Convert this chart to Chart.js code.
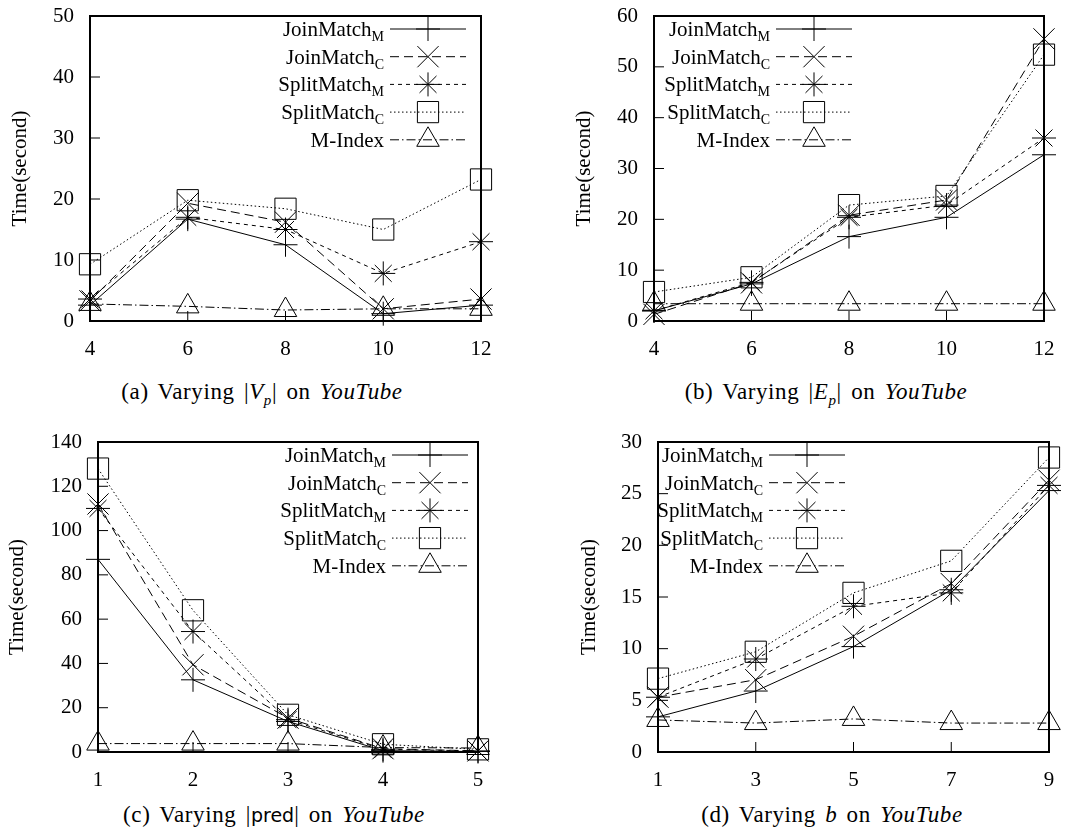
<!DOCTYPE html>
<html>
<head>
<meta charset="utf-8">
<script src="https://cdn.jsdelivr.net/npm/chart.js@4.4.1/dist/chart.umd.min.js"></script>
<style>
  body { margin: 0; background: #fff; width: 1075px; height: 838px; position: relative; overflow: hidden;
         font-family: "Liberation Serif", "Times New Roman", serif; color: #000; }
  .panel { position: absolute; }
  .cap { position: absolute; font-size: 23px; line-height: 26px; letter-spacing: 0.6px; word-spacing: 3px;
         transform: translate(-50%, -50%); white-space: nowrap; }
  .cap sub { font-size: 15px; line-height: 0; }
  .sf { font-family: "DejaVu Sans", sans-serif; font-size: 19px; letter-spacing: 0; }
</style>
</head>
<body>
<div class="cap" style="left:262px;top:392px">(a) Varying |<i>V<sub>p</sub></i>| on <i>YouTube</i></div>
<div class="cap" style="left:826px;top:392px">(b) Varying |<i>E<sub>p</sub></i>| on <i>YouTube</i></div>
<div class="cap" style="left:274px;top:815px">(c) Varying |<span class="sf">pred</span>| on <i>YouTube</i></div>
<div class="cap" style="left:832px;top:815px">(d) Varying <i>b</i> on <i>YouTube</i></div>

<script>
// series names (main text + subscript)
const seriesNames = ['JoinMatch', 'JoinMatch', 'SplitMatch', 'SplitMatch', 'M-Index'];
const seriesSubs = ['M', 'C', 'M', 'C', ''];

// (a) varying |Vp|
const xVp = [4, 6, 8, 10, 12];
const vpJoinM = [2.6, 16.7, 12.5, 1.2, 2.6];
const vpJoinC = [3.3, 19.3, 16.2, 2.0, 3.6];
const vpSplitM = [3.6, 17.0, 15.0, 7.8, 13.0];
const vpSplitC = [9.3, 19.8, 18.4, 15.0, 23.2];
const vpMIndex = [2.8, 2.4, 1.8, 2.0, 2.0];

// (b) varying |Ep|
const xEp = [4, 6, 8, 10, 12];
const epJoinM = [2.0, 7.3, 16.6, 20.4, 32.7];
const epJoinC = [1.3, 7.5, 20.8, 23.8, 55.5];
const epSplitM = [2.0, 7.6, 20.4, 22.8, 36.0];
const epSplitC = [5.7, 8.6, 22.8, 24.6, 52.4];
const epMIndex = [3.4, 3.4, 3.4, 3.4, 3.4];

// (c) varying |pred|
const xPred = [1, 2, 3, 4, 5];
const predJoinM = [87, 32.6, 13.8, 0.6, 0.2];
const predJoinC = [112, 39.4, 15.3, 1.5, 0.5];
const predSplitM = [110, 54.4, 14.6, 1.2, 0.5];
const predSplitC = [128, 64, 16.8, 3.5, 1.2];
const predMIndex = [3.8, 3.8, 3.8, 2.0, 1.8];

// (d) varying b
const xB = [1, 3, 5, 7, 9];
const bJoinM = [3.4, 5.9, 10.2, 15.7, 25.3];
const bJoinC = [5.3, 7.0, 11.2, 16.3, 26.3];
const bSplitM = [5.3, 9.0, 14.1, 15.4, 25.8];
const bSplitC = [7.1, 9.7, 15.4, 18.5, 28.5];
const bMIndex = [3.1, 2.8, 3.2, 2.8, 2.8];

const FONT = '"Liberation Serif", "Times New Roman", serif';

const lineStyles = [
  { pointStyle: 'cross', radius: 12, dash: [] },
  { pointStyle: 'crossRot', radius: 15, dash: [9, 5] },
  { pointStyle: 'star', radius: 12, dash: [4, 4] },
  { pointStyle: 'rect', radius: 15, dash: [1.5, 2.5] },
  { pointStyle: 'triangle', radius: 13, dash: [9, 3, 1.5, 3] }
];

const panels = [
  { left: 0, top: 0, w: 537, h: 360, area: { left: 90, top: 10, right: 481, bottom: 321 },
    titlePad: 8, legendX: 390, xs: xVp, xStep: 2, yMax: 50, yStep: 10,
    series: [vpJoinM, vpJoinC, vpSplitM, vpSplitC, vpMIndex] },
  { left: 537, top: 0, w: 538, h: 360, area: { left: 117, top: 10, right: 507, bottom: 321 },
    titlePad: 35, legendX: 239, xs: xEp, xStep: 2, yMax: 60, yStep: 10,
    series: [epJoinM, epJoinC, epSplitM, epSplitC, epMIndex] },
  { left: 0, top: 420, w: 537, h: 380, area: { left: 98, top: 22, right: 478, bottom: 332 },
    titlePad: 5, legendX: 392, xs: xPred, xStep: 1, yMax: 140, yStep: 20,
    series: [predJoinM, predJoinC, predSplitM, predSplitC, predMIndex] },
  { left: 537, top: 420, w: 538, h: 380, area: { left: 121, top: 22, right: 512, bottom: 332 },
    titlePad: 40, legendX: 232, xs: xB, xStep: 2, yMax: 30, yStep: 5,
    series: [bJoinM, bJoinC, bSplitM, bSplitC, bMIndex] }
];

function drawMarker(ctx, style, r, x, y) {
  ctx.beginPath();
  const d = r * Math.SQRT1_2;
  if (style === 'cross' || style === 'star') {
    ctx.moveTo(x - r, y); ctx.lineTo(x + r, y);
    ctx.moveTo(x, y - r); ctx.lineTo(x, y + r);
  }
  if (style === 'crossRot' || style === 'star') {
    ctx.moveTo(x - d, y - d); ctx.lineTo(x + d, y + d);
    ctx.moveTo(x - d, y + d); ctx.lineTo(x + d, y - d);
  }
  if (style === 'rect') ctx.rect(x - d, y - d, 2 * d, 2 * d);
  if (style === 'triangle') {
    ctx.moveTo(x, y - r);
    ctx.lineTo(x + r * Math.sin(Math.PI / 3), y + r / 2);
    ctx.lineTo(x - r * Math.sin(Math.PI / 3), y + r / 2);
    ctx.closePath();
  }
  ctx.stroke();
}

// gnuplot style frame: inward ticks and box border
const framePlugin = {
  id: 'frame',
  beforeDatasetsDraw(chart) {
    const { ctx, chartArea: a, scales: { x, y } } = chart;
    ctx.save();
    ctx.strokeStyle = '#000';
    ctx.lineWidth = 1;
    y.ticks.forEach(t => {
      const py = y.getPixelForValue(t.value);
      ctx.beginPath(); ctx.moveTo(a.left, py); ctx.lineTo(a.left + 10, py); ctx.stroke();
    });
    x.ticks.forEach(t => {
      const px = x.getPixelForValue(t.value);
      ctx.beginPath(); ctx.moveTo(px, a.bottom); ctx.lineTo(px, a.bottom - 10); ctx.stroke();
    });
    ctx.lineWidth = 2;
    ctx.strokeRect(a.left, a.top, a.right - a.left, a.bottom - a.top);
    ctx.restore();
  }
};

const keyPlugin = {
  id: 'key',
  afterDatasetsDraw(chart, args, opts) {
    const { ctx, chartArea: a } = chart;
    ctx.save();
    ctx.fillStyle = '#000';
    ctx.strokeStyle = '#000';
    ctx.lineWidth = 1;
    seriesNames.forEach((name, i) => {
      const y = a.top + 13 + i * 27.7;
      const lx = opts.x;
      ctx.font = '21px ' + FONT;
      const w1 = ctx.measureText(name).width;
      ctx.font = '14px ' + FONT;
      const w2 = ctx.measureText(seriesSubs[i]).width;
      const start = lx - 6 - w1 - w2;
      ctx.textBaseline = 'alphabetic';
      ctx.textAlign = 'left';
      ctx.font = '21px ' + FONT;
      ctx.fillText(name, start, y + 7);
      ctx.font = '14px ' + FONT;
      ctx.fillText(seriesSubs[i], start + w1, y + 12);
      ctx.setLineDash(lineStyles[i].dash);
      ctx.beginPath(); ctx.moveTo(lx, y); ctx.lineTo(lx + 76, y); ctx.stroke();
      ctx.setLineDash([]);
      drawMarker(ctx, lineStyles[i].pointStyle, lineStyles[i].radius, lx + 38, y);
    });
    ctx.restore();
  }
};

panels.forEach(p => {
  const div = document.createElement('div');
  div.className = 'panel';
  div.style.left = p.left + 'px';
  div.style.top = p.top + 'px';
  div.style.width = p.w + 'px';
  div.style.height = p.h + 'px';
  const canvas = document.createElement('canvas');
  canvas.width = p.w;
  canvas.height = p.h;
  div.appendChild(canvas);
  document.body.appendChild(div);

  new Chart(canvas, {
    type: 'line',
    data: {
      datasets: p.series.map((ys, i) => ({
        label: seriesNames[i] + seriesSubs[i],
        data: p.xs.map((x, j) => ({ x: x, y: ys[j] })),
        borderColor: '#000',
        borderWidth: 1,
        borderDash: lineStyles[i].dash,
        pointStyle: lineStyles[i].pointStyle,
        pointRadius: lineStyles[i].radius,
        pointHoverRadius: lineStyles[i].radius,
        pointBorderColor: '#000',
        pointBackgroundColor: 'rgba(0,0,0,0)',
        pointBorderWidth: 1,
        tension: 0,
        fill: false,
        clip: false
      }))
    },
    options: {
      responsive: false,
      animation: false,
      events: [],
      layout: { padding: { left: 0, top: p.area.top, right: p.w - p.area.right, bottom: 0 } },
      plugins: {
        legend: { display: false },
        tooltip: { enabled: false },
        key: { x: p.legendX }
      },
      scales: {
        x: {
          type: 'linear',
          min: p.xs[0],
          max: p.xs[p.xs.length - 1],
          ticks: { stepSize: p.xStep, color: '#000', padding: 8, font: { family: FONT, size: 21 } },
          grid: { display: false },
          border: { display: false },
          afterFit: s => { s.height = p.h - p.area.bottom; s.paddingLeft = 0; s.paddingRight = 0; }
        },
        y: {
          min: 0,
          max: p.yMax,
          ticks: { stepSize: p.yStep, color: '#000', padding: 8, font: { family: FONT, size: 21 } },
          grid: { display: false },
          border: { display: false },
          title: { display: true, text: 'Time(second)', color: '#000',
                   font: { family: FONT, size: 21 }, padding: { top: p.titlePad, bottom: 0 } },
          afterFit: s => { s.width = p.area.left; s.paddingTop = 0; s.paddingBottom = 0; }
        }
      }
    },
    plugins: [framePlugin, keyPlugin]
  });
});
</script>
</body>
</html>
